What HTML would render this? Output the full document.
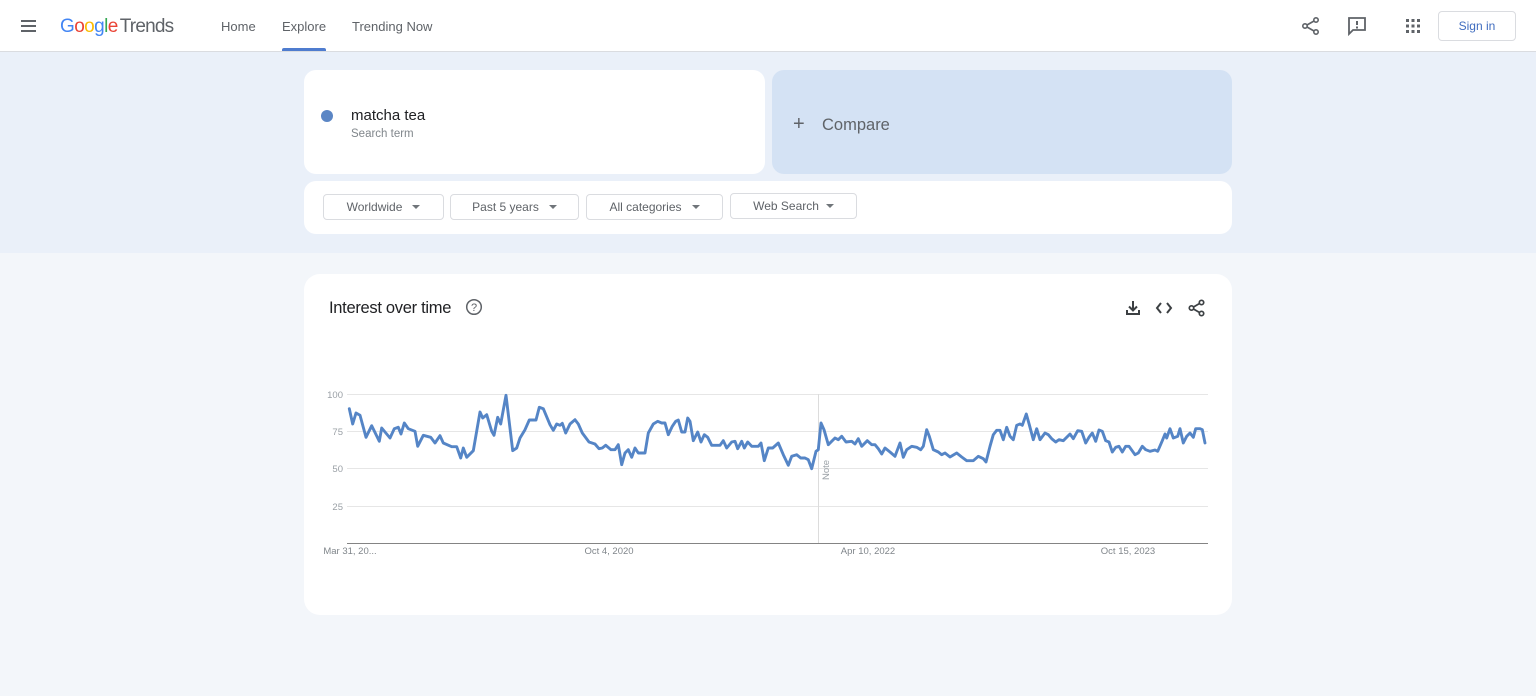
<!DOCTYPE html>
<html>
<head>
<meta charset="utf-8">
<style>
  html,body{margin:0;padding:0;}
  body{width:1536px;height:696px;position:relative;overflow:hidden;background:#f3f6fa;font-family:"Liberation Sans",Arial,sans-serif;}
  .abs{position:absolute;}
  .header{left:0;top:0;width:1536px;height:51px;background:#fff;border-bottom:1px solid #dadce0;}
  .band{left:0;top:52px;width:1536px;height:201px;background:#eaf0f9;}
  .card{background:#fff;border-radius:12px;}
  .nav{font-size:13px;color:#5f6368;top:19px;}
  .btn{top:194px;height:26px;border:1px solid #dadce0;border-radius:4px;background:#fff;font-size:12px;color:#5f6368;box-sizing:border-box;display:flex;align-items:center;justify-content:center;}
  .tri{display:inline-block;width:0;height:0;border-left:4px solid transparent;border-right:4px solid transparent;border-top:4px solid #70757a;margin-left:10px;}
</style>
</head>
<body>
<div class="abs header"></div>
<div class="abs band"></div>

<!-- hamburger -->
<div class="abs" style="left:21px;top:20px;width:15px;height:2px;background:#5f6368;"></div>
<div class="abs" style="left:21px;top:25px;width:15px;height:2px;background:#5f6368;"></div>
<div class="abs" style="left:21px;top:30px;width:15px;height:2px;background:#5f6368;"></div>

<!-- logo -->
<div class="abs" style="left:60px;top:15px;font-size:19px;line-height:24px;letter-spacing:-0.6px;white-space:nowrap;">
  <span style="color:#4285f4">G</span><span style="color:#ea4335">o</span><span style="color:#fbbc05">o</span><span style="color:#4285f4">g</span><span style="color:#34a853">l</span><span style="color:#ea4335">e</span><span style="color:#5f6368;margin-left:2px;letter-spacing:-0.8px;">Trends</span>
</div>

<div class="abs nav" style="left:221px;">Home</div>
<div class="abs nav" style="left:282px;">Explore</div>
<div class="abs" style="left:282px;top:48px;width:44px;height:3px;background:#4f7ccf;border-radius:2px 2px 0 0;"></div>
<div class="abs nav" style="left:352px;">Trending Now</div>

<!-- header right icons -->
<svg class="abs" style="left:1300px;top:15px;" width="22" height="22" viewBox="0 0 22 22">
  <circle cx="16" cy="5" r="2.2" fill="none" stroke="#5f6368" stroke-width="1.6"/>
  <circle cx="5" cy="11" r="2.2" fill="none" stroke="#5f6368" stroke-width="1.6"/>
  <circle cx="16" cy="17" r="2.2" fill="none" stroke="#5f6368" stroke-width="1.6"/>
  <line x1="7" y1="10" x2="14" y2="6" stroke="#5f6368" stroke-width="1.6"/>
  <line x1="7" y1="12" x2="14" y2="16" stroke="#5f6368" stroke-width="1.6"/>
</svg>
<svg class="abs" style="left:1346px;top:15px;" width="22" height="22" viewBox="0 0 22 22">
  <path d="M3 3 H19 V15 H7 L3 19 Z" fill="none" stroke="#5f6368" stroke-width="1.8"/>
  <rect x="10" y="6" width="2" height="4" fill="#5f6368"/>
  <rect x="10" y="11.5" width="2" height="2" fill="#5f6368"/>
</svg>
<svg class="abs" style="left:1405px;top:18px;" width="16" height="16" viewBox="0 0 16 16" fill="#5f6368">
  <rect x="1" y="1" width="3" height="3"/><rect x="6.5" y="1" width="3" height="3"/><rect x="12" y="1" width="3" height="3"/>
  <rect x="1" y="6.5" width="3" height="3"/><rect x="6.5" y="6.5" width="3" height="3"/><rect x="12" y="6.5" width="3" height="3"/>
  <rect x="1" y="12" width="3" height="3"/><rect x="6.5" y="12" width="3" height="3"/><rect x="12" y="12" width="3" height="3"/>
</svg>
<div class="abs" style="left:1438px;top:11px;width:78px;height:30px;border:1px solid #dadce0;border-radius:4px;box-sizing:border-box;background:#fff;color:#3f6cbf;font-size:12px;display:flex;align-items:center;justify-content:center;">Sign in</div>

<!-- search card -->
<div class="abs card" style="left:304px;top:70px;width:461px;height:104px;"></div>
<div class="abs" style="left:321px;top:110px;width:12px;height:12px;border-radius:50%;background:#5b86c5;"></div>
<div class="abs" style="left:351px;top:107px;font-size:15px;color:#202124;">matcha tea</div>
<div class="abs" style="left:351px;top:128px;font-size:11.5px;color:#80868b;">Search term</div>

<!-- compare card -->
<div class="abs" style="left:772px;top:70px;width:460px;height:104px;background:#d4e2f4;border-radius:12px;"></div>
<div class="abs" style="left:793px;top:114px;font-size:20px;line-height:20px;color:#5f6368;">+</div>
<div class="abs" style="left:822px;top:116px;font-size:16.5px;color:#5f6368;">Compare</div>

<!-- filters card -->
<div class="abs card" style="left:304px;top:181px;width:928px;height:53px;"></div>
<div class="abs btn" style="left:323px;width:121px;">Worldwide<span class="tri"></span></div>
<div class="abs btn" style="left:450px;width:129px;">Past 5 years<span class="tri"></span></div>
<div class="abs btn" style="left:586px;width:137px;">All categories<span class="tri"></span></div>
<div class="abs btn" style="left:730px;width:127px;top:193px;">Web Search<span class="tri" style="margin-left:7px;"></span></div>

<!-- chart card -->
<div class="abs" style="left:304px;top:274px;width:928px;height:341px;background:#fff;border-radius:16px;"></div>
<div class="abs" style="left:329px;top:299px;font-size:16.5px;color:#202124;letter-spacing:-0.3px;">Interest over time</div>
<svg class="abs" style="left:465px;top:298px;" width="18" height="18" viewBox="0 0 18 18">
  <circle cx="9" cy="9" r="7.3" fill="none" stroke="#5f6368" stroke-width="1.5"/>
  <text x="9" y="13" text-anchor="middle" font-family="Liberation Sans, sans-serif" font-size="11" fill="#5f6368">?</text>
</svg>

<!-- chart icons -->
<svg class="abs" style="left:1125px;top:299px;" width="16" height="18" viewBox="0 0 16 18">
  <line x1="8" y1="2" x2="8" y2="11" stroke="#3c4043" stroke-width="2"/>
  <path d="M4 7.5 L8 11.5 L12 7.5" fill="none" stroke="#3c4043" stroke-width="2"/>
  <path d="M2 11 V15 H14 V11" fill="none" stroke="#3c4043" stroke-width="2"/>
</svg>
<svg class="abs" style="left:1155px;top:300px;" width="18" height="16" viewBox="0 0 18 16">
  <path d="M6 3 L2 8 L6 13" fill="none" stroke="#3c4043" stroke-width="2"/>
  <path d="M12 3 L16 8 L12 13" fill="none" stroke="#3c4043" stroke-width="2"/>
</svg>
<svg class="abs" style="left:1187px;top:298px;" width="20" height="20" viewBox="0 0 20 20">
  <circle cx="14.5" cy="4.5" r="2.2" fill="none" stroke="#3c4043" stroke-width="1.7"/>
  <circle cx="4.5" cy="10" r="2.2" fill="none" stroke="#3c4043" stroke-width="1.7"/>
  <circle cx="14.5" cy="15.5" r="2.2" fill="none" stroke="#3c4043" stroke-width="1.7"/>
  <line x1="6.5" y1="9" x2="12.5" y2="5.5" stroke="#3c4043" stroke-width="1.7"/>
  <line x1="6.5" y1="11" x2="12.5" y2="14.5" stroke="#3c4043" stroke-width="1.7"/>
</svg>

<!-- chart -->
<svg class="abs" style="left:0;top:0;" width="1536" height="696" viewBox="0 0 1536 696">
  <g stroke="#e6e6e6" stroke-width="1">
    <line x1="347" y1="394.5" x2="1208" y2="394.5"/>
    <line x1="347" y1="431.5" x2="1208" y2="431.5"/>
    <line x1="347" y1="468.5" x2="1208" y2="468.5"/>
    <line x1="347" y1="506.5" x2="1208" y2="506.5"/>
  </g>
  <line x1="818.5" y1="394" x2="818.5" y2="543" stroke="#dcdcdc" stroke-width="1"/>
  <line x1="347" y1="543.5" x2="1208" y2="543.5" stroke="#333" stroke-width="1" opacity="0.6"/>
  <g font-family="Liberation Sans, sans-serif" font-size="9.5" fill="#9aa0a6" text-anchor="end">
    <text x="343" y="398">100</text>
    <text x="343" y="435">75</text>
    <text x="343" y="472">50</text>
    <text x="343" y="510">25</text>
  </g>
  <g font-family="Liberation Sans, sans-serif" font-size="9.5" fill="#80868b" text-anchor="middle">
    <text x="350" y="554">Mar 31, 20...</text>
    <text x="609" y="554">Oct 4, 2020</text>
    <text x="868" y="554">Apr 10, 2022</text>
    <text x="1128" y="554">Oct 15, 2023</text>
  </g>
  <text x="0" y="0" transform="translate(829,480) rotate(-90)" font-family="Liberation Sans, sans-serif" font-size="9.5" fill="#9aa0a6">Note</text>
  <polyline fill="none" stroke="#5585c6" stroke-width="2.9" stroke-linejoin="round" stroke-linecap="round" points="
349.3,408.7 352.7,424 356,413 360,415.3 366,437.3 371.7,425.7 379.3,441.3 381.7,428 390,438 394.3,428.7 398.3,427.3 401,434 404.3,423 408.3,428.7 415,431.3 417.7,446.3 423.3,435.3 430.7,437.3 435,443 440,435.7 443.3,443 451.7,446.7 456.7,446.7 460.7,458 463.3,448 466.7,457.3 473.3,450.7 480,412 482.7,418 486.7,414.7 491.7,431.3 494,435.3 497.7,417.3 500.7,424 506,395.3 512.7,450.7 516.7,448 520,438 525,429.7 529.3,420 536,420 539.3,407.3 543.3,408.7 550,424.7 553.3,430.3 556.7,424 560,425.3 562.3,423.3 565.7,433 570,424 575,419.7 578.3,424 582.3,433 589,442 595,444 599,448.7 602.3,448 605.7,445.3 611,449.7 615,449.7 618.3,444.7 621.7,464.7 625,453 628.3,449.7 631.7,457.3 635,448 638.3,453 645,453 648.3,433 653.3,424 657.7,421.3 661.7,423 665,423 668.3,434.7 672.3,426.3 675.7,421.3 678.3,420 681.7,432 685,432 687.7,418 690,421.3 693.3,440.7 697.7,432 701,442 704.3,434.7 707.7,437.3 711.7,445.3 720,445.3 723.3,440.7 726.7,448 731.7,442 735,441.3 737.7,448.7 741.7,441.3 744.3,448 747.7,442 751.7,446.3 758.3,446.3 761,443 764.3,460.7 768.3,448 772.7,448 778.3,443 783.3,454.7 788.3,465.3 791.7,456.3 796.7,454.7 800.7,458 805,458 808.3,459.7 811.7,468.7 816,451.3 818.3,449.7 821,423 824,429.7 828.3,444.7 835,438 838.3,439.7 841.7,436.3 846,442 851.7,441.3 855,444 858.3,438.7 861.7,446.3 867.3,440.7 871.7,444.7 875,444.7 878.3,448.7 881.7,454 885,448 890,452 895,456.3 900,443 903.3,457.3 906.7,449.7 911.7,446.3 916.7,447.3 920.7,449.7 923.3,446.3 926.7,429.7 929.3,436.3 933.3,449.7 938.3,452 941.7,454.7 945,453 950,457 956.7,453 961.7,457 966.7,460.7 973.3,460.7 978.3,456.3 983.3,458.7 986,462 990,446.3 993.3,434.7 996.7,430.3 1000,430.3 1003.3,439.7 1006.7,427.3 1010,436.3 1013.3,439.7 1016.7,425.3 1020,424 1022.3,425.3 1026.3,414 1029.3,424.7 1033.3,439.7 1036.7,428.7 1040,439.7 1045,433 1048.3,434.7 1051.7,438.7 1055.7,442 1059,439.7 1063.3,440.7 1070,434 1073.3,438.7 1077.7,430.7 1081.7,431.3 1085.7,443 1089,437.3 1092.3,433 1095.7,441.3 1099,430 1102.3,431.3 1105.7,440.7 1109,442 1112.3,452 1115.7,447.3 1119,446.3 1122.3,452 1125.7,446.3 1129,446.3 1135,454.7 1138.3,453 1142.3,446.3 1145.7,449.7 1150,451.3 1155,450 1157.7,451.3 1162.3,440.7 1165,434 1166.7,438 1170,428.7 1173.3,438 1177.7,436.3 1180,428.7 1183.3,443 1186.7,436.3 1190,433 1193.3,437.3 1195.7,428.7 1200,428.7 1202.3,429.7 1205,443"/>
</svg>
</body>
</html>
